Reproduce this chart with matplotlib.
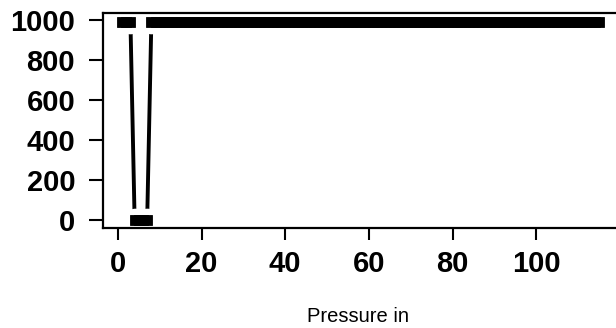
import numpy as np
import matplotlib.pyplot as plt

plt.rcParams['font.family'] = ['Liberation Sans', 'DejaVu Sans']

# readings: index 1..115, most points sit just under 1000, points 4-7 drop to 0
x = list(range(1, 116))
y = [990, 990, 990, 0, 0, 0, 0] + [990] * 108

xticks = [0, 20, 40, 60, 80, 100]
yticks = [0, 200, 400, 600, 800, 1000]

W, H = 616, 328
fig = plt.figure(figsize=(W / 100, H / 100), dpi=100)
ax = fig.add_axes([103 / W, 1 - 228.3 / H, (618 - 103) / W, (228.3 - 12.7) / H])

# R style type="b": line segments, then a white halo round each point, then square points
ax.plot(x, y, color='black', lw=2.8, zorder=1.5, solid_capstyle='butt')
ax.plot(x, y, ls='none', marker='o', ms=17, mfc='white', mec='none', zorder=1.8)
ax.plot(x, y, ls='none', marker='s', ms=6.6, mfc='black', mec='black', mew=0.6, zorder=1.9)

span = max(x) - min(x)
ax.set_xlim(min(x) - 0.04 * span, max(x) + 0.04 * span)
ax.set_ylim(-43, 1034)

ax.set_xticks(xticks)
ax.set_yticks(yticks)
ax.set_xticklabels([str(v) for v in xticks], fontsize=21, fontweight='bold')
ax.set_yticklabels([str(v) for v in yticks], fontsize=21, fontweight='bold')
ax.tick_params(axis='x', length=8.6, width=1.5, pad=7)
ax.tick_params(axis='y', length=10, width=1.5, pad=10)
for s in ax.spines.values():
    s.set_linewidth(1.6)
    s.set_zorder(2.5)

fig.text(358 / W, 1 - 317 / H, 'Pressure in', ha='center', va='center', fontsize=14.5)

fig.savefig('out.png', dpi=100)
